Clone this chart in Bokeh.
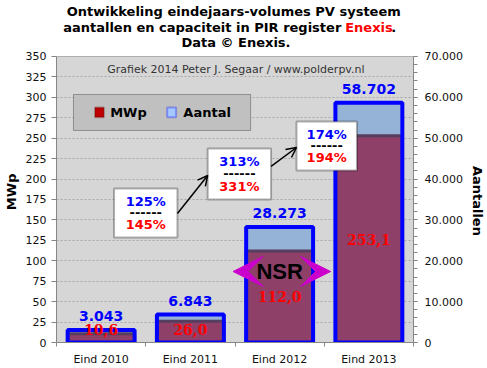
import math
from bokeh.plotting import figure
from bokeh.models import (Range1d, LinearAxis, FixedTicker, ColumnDataSource,
                          BoxAnnotation, Label, LabelSet, Arrow, OpenHead, VeeHead)
from bokeh.core.properties import value
from bokeh.embed import file_html
from bokeh.resources import INLINE

# ---------------- data ----------------
categories = ["Eind 2010", "Eind 2011", "Eind 2012", "Eind 2013"]
mwp = [10.6, 26.0, 112.0, 253.1]
aantal = [3043, 6843, 28273, 58702]
mwp_labels = ["10,6", "26,0", "112,0", "253,1"]
aantal_labels = ["3.043", "6.843", "28.273", "58.702"]
growth_aantal = ["125%", "313%", "174%"]
growth_mwp = ["145%", "331%", "194%"]
mwp_ticks = [0, 25, 50, 75, 100, 125, 150, 175, 200, 225, 250, 275, 300, 325, 350]
aantal_ticks = [0, 10000, 20000, 30000, 40000, 50000, 60000, 70000]
aantal_tick_labels = ["0", "10.000", "20.000", "30.000", "40.000", "50.000", "60.000", "70.000"]

FONT = "DejaVu Sans"
SERIF = "DejaVu Serif"
W, H = 487, 368
LB, RB, TB, BB = 53, 68, 0, 26
MWP_MAX, AANTAL_MAX = 350, 70000
Y_TOP = 418.5                      # extra room above the plot area for the title
RATIO = AANTAL_MAX / MWP_MAX
NBSP = "\u00a0"

p = figure(width=W, height=H, x_range=Range1d(0, len(categories)), y_range=Range1d(0, Y_TOP),
           output_backend="svg", toolbar_location=None,
           min_border_left=LB, min_border_right=RB, min_border_top=TB, min_border_bottom=BB,
           background_fill_color="white", border_fill_color="white",
           outline_line_color=None)
p.extra_y_ranges = {"aantal": Range1d(0, Y_TOP * RATIO)}

# plot area
p.add_layout(BoxAnnotation(left=0, right=len(categories), bottom=0, top=MWP_MAX,
                           fill_color="#D6D6D6", fill_alpha=1, line_color=None, level="image"))
p.add_layout(BoxAnnotation(left=0, right=len(categories), bottom=0, top=MWP_MAX,
                           fill_color=None, fill_alpha=0, line_color="#222222", line_width=1,
                           level="underlay"))

xs = [i + 0.5 for i in range(len(categories))]
src = ColumnDataSource(dict(
    x=xs, mwp=mwp, aantal=aantal, mwp_text=mwp_labels, aantal_text=aantal_labels,
    mwp_y=[max(v / 2, 16) for v in mwp],
    aantal_y=[a + 17 * RATIO for a in aantal],
))

BAR_W = 0.75
p.vbar(x="x", top="aantal", bottom=0, width=BAR_W, source=src, y_range_name="aantal",
       fill_color="#95B3D7", line_color=None)
p.vbar(x="x", top="mwp", bottom=0, width=BAR_W, source=src,
       fill_color="#8E4068", line_color="#553E5E", line_width=3)
p.vbar(x="x", top="aantal", bottom=0, width=BAR_W, source=src, y_range_name="aantal",
       fill_color=None, line_color="#0000FF", line_width=4)

# value labels
p.add_layout(LabelSet(x="x", y="mwp_y", text="mwp_text", source=src,
                      text_font=value(SERIF), text_font_style="bold", text_font_size="14px",
                      text_color="#FF0000", text_align="center", text_baseline="middle"))
p.add_layout(LabelSet(x="x", y="aantal_y", text="aantal_text", source=src, y_range_name="aantal",
                      text_font=value(FONT), text_font_style="bold", text_font_size="14px",
                      text_color="#0000FF", text_align="center", text_baseline="middle"))

# ---------------- axes ----------------
yl = p.yaxis[0]
yl.bounds = (0, MWP_MAX)
yl.ticker = FixedTicker(ticks=mwp_ticks)
yl.major_tick_out = 5
yl.major_tick_in = 0
yl.minor_tick_out = 0
yl.minor_tick_in = 0
yl.axis_line_color = "#868686"
yl.major_tick_line_color = "#868686"
yl.major_label_text_font = FONT
yl.major_label_text_font_size = "11px"
yl.major_label_text_color = "#111111"
yl.major_label_standoff = 5
# padded so that the label sits centred on the plot area rather than on the whole frame
yl.axis_label = "MWp" + NBSP * 9
yl.axis_label_text_font = FONT
yl.axis_label_text_font_size = "13px"
yl.axis_label_text_font_style = "bold"
yl.axis_label_text_color = "#000000"
yl.axis_label_standoff = 4

yr = LinearAxis(y_range_name="aantal", bounds=(0, AANTAL_MAX),
                ticker=FixedTicker(ticks=aantal_ticks, minor_ticks=list(range(0, AANTAL_MAX + 1, 2000))),
                major_label_overrides=dict(zip(aantal_ticks, aantal_tick_labels)))
yr.major_tick_out = 4
yr.major_tick_in = 0
yr.minor_tick_out = 4
yr.minor_tick_in = 0
yr.axis_line_color = "#868686"
yr.major_tick_line_color = "#868686"
yr.minor_tick_line_color = "#868686"
yr.major_label_text_font = FONT
yr.major_label_text_font_size = "11px"
yr.major_label_text_color = "#111111"
yr.major_label_standoff = 7
yr.axis_label = NBSP * 13 + "Aantallen"
yr.axis_label_text_font = FONT
yr.axis_label_text_font_size = "13px"
yr.axis_label_text_font_style = "bold"
yr.axis_label_text_color = "#000000"
yr.axis_label_standoff = 4
p.add_layout(yr, "right")

xa = p.xaxis[0]
xa.ticker = FixedTicker(ticks=xs, minor_ticks=list(range(len(categories) + 1)))
xa.major_label_overrides = dict(zip(xs, categories))
xa.major_tick_out = 0
xa.major_tick_in = 0
xa.minor_tick_out = 4
xa.minor_tick_in = 0
xa.axis_line_color = "#868686"
xa.minor_tick_line_color = "#868686"
xa.major_label_text_font = FONT
xa.major_label_text_font_size = "11px"
xa.major_label_text_color = "#111111"
xa.major_label_standoff = 6

p.xgrid.visible = False
p.ygrid.ticker = FixedTicker(ticks=mwp_ticks[1:-1])
p.ygrid.grid_line_color = "#A8A8A8"
p.ygrid.grid_line_dash = "2 2"
p.ygrid.grid_line_width = 1


def dlab(text, x, y, color="#000000", size="13px", style="bold", align="center", font=FONT):
    p.add_layout(Label(x=x, y=y, text=text, text_color=color,
                       text_font=font, text_font_size=size, text_font_style=style,
                       text_align=align, text_baseline="middle"))


# ---------------- titles ----------------
dlab("Ontwikkeling  eindejaars-volumes PV systeem", 2.011, 405)
dlab("aantallen en capaciteit in PIR register", 3.191, 385.5, align="right")
dlab("Enexis", 3.235, 385.5, color="#FF0000", align="left")
dlab(".", 3.75, 385.5, align="left")
dlab("Data \u00a9 Enexis.", 2.011, 367.2)

# watermark
dlab("Grafiek 2014 Peter J. Segaar / www.polderpv.nl", 2.01, 334, color="#333333",
     size="11px", style="normal")

# ---------------- legend box ----------------
p.add_layout(BoxAnnotation(left=0.19, right=2.175, bottom=259.5, top=303.5,
                           fill_color="#C0C0C0", fill_alpha=1, line_color="#000000", line_width=1))
p.add_layout(BoxAnnotation(left=0.431, right=0.531, bottom=275.5, top=287.5,
                           fill_color="#C00000", fill_alpha=1, line_color="#5C0000", line_width=2))
p.add_layout(BoxAnnotation(left=1.24, right=1.34, bottom=275.5, top=287.5,
                           fill_color="#A6C8FF", fill_alpha=1, line_color="#0000FF", line_width=2))
dlab("MWp", 0.601, 281.5, align="left")
dlab("Aantal", 1.421, 281.5, align="left")

# ---------------- growth boxes ----------------
boxes = [(0.645, 1.355, 128.5, 188.5), (1.694, 2.404, 175.0, 237.4), (2.689, 3.366, 210.5, 270.5)]
for (l, r, b, t), ga, gm in zip(boxes, growth_aantal, growth_mwp):
    p.add_layout(BoxAnnotation(left=l, right=r, bottom=b, top=t, fill_color="white", fill_alpha=1,
                               line_color="#000000", line_width=2))
    cx, cy = (l + r) / 2, (b + t) / 2
    dlab(ga, cx, t - 15.5, color="#0000FF")
    dlab("------", cx, cy)
    dlab(gm, cx, b + 15.5, color="#FF0000")

p.add_layout(Arrow(end=OpenHead(size=10, line_width=1.5, line_color="black"),
                   x_start=1.355, y_start=157.9, x_end=1.694, y_end=204.4,
                   line_width=1.5, line_color="black"))
p.add_layout(Arrow(end=OpenHead(size=10, line_width=1.5, line_color="black"),
                   x_start=2.404, y_start=215.4, x_end=2.689, y_end=238.6,
                   line_width=1.5, line_color="black"))

# ---------------- NSR ----------------
p.add_layout(Arrow(start=VeeHead(size=30, fill_color="#CC00CC", line_color="#CC00CC"),
                   end=VeeHead(size=30, fill_color="#CC00CC", line_color="#CC00CC"),
                   x_start=1.978, y_start=86.9, x_end=3.071, y_end=86.9,
                   line_alpha=0, line_width=1))
dlab("NSR", 2.5, 86.9, size="22px", font="Liberation Sans")

open("out.html", "w").write(file_html(p, INLINE))
